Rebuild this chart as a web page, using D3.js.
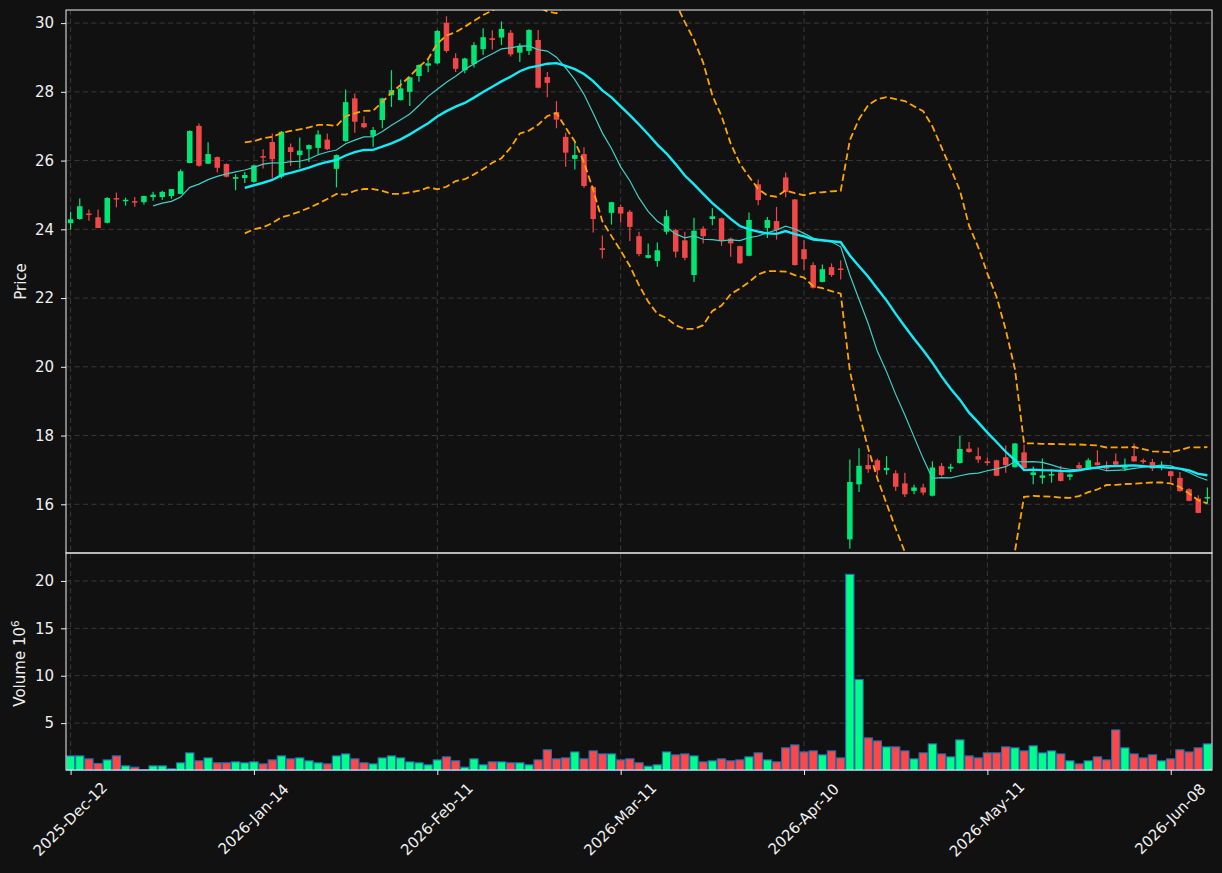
<!DOCTYPE html>
<html>
<head>
<meta charset="utf-8">
<script src="https://cdn.jsdelivr.net/npm/d3@7/dist/d3.min.js"></script>
<style>
  body { margin: 0; background: #111111; }
  svg { display: block; font-family: "DejaVu Sans", sans-serif; }
  .axis text { fill: #f0f0f0; font-size: 15px; font-family: "DejaVu Sans", sans-serif; }
  .axis line { stroke: #f0f0f0; }
  .grid line { stroke: #3a3a3a; stroke-dasharray: 5,3.5; }
  .title { fill: #f0f0f0; font-size: 15px; font-family: "DejaVu Sans", sans-serif; }
</style>
</head>
<body>
<svg width="1222" height="873"></svg>
<script>
// x tick positions (row index) and their date labels
var tickIdx = [0, 20, 40, 60, 80, 100, 120];
var tickLabels = ["2025-Dec-12", "2026-Jan-14", "2026-Feb-11", "2026-Mar-11",
                  "2026-Apr-10", "2026-May-11", "2026-Jun-08"];

var priceTicks = [16, 18, 20, 22, 24, 26, 28, 30];
var volTicks = [5, 10, 15, 20];

// OHLC, one per trading day
var opens = [24.18,24.30,24.46,24.35,24.19,24.91,24.84,24.82,24.79,24.94,
  24.94,24.97,25.03,25.93,27.01,25.91,26.10,25.90,25.47,25.49,
  25.38,26.13,26.54,25.53,26.39,26.16,26.33,26.37,26.61,25.76,
  26.57,27.81,27.09,26.72,27.18,27.90,27.76,28.00,28.46,28.76,
  28.83,30.01,28.98,28.63,28.81,29.24,29.56,29.58,29.72,29.14,
  29.19,29.51,28.43,27.41,26.69,26.05,26.19,25.23,23.45,24.48,
  24.65,24.51,23.80,23.17,23.08,23.93,23.98,23.68,22.67,24.02,
  24.30,24.32,23.73,23.51,23.23,25.31,24.04,24.24,25.51,24.87,
  23.42,22.96,22.47,22.90,22.86,14.98,16.58,17.14,17.28,16.99,
  16.90,16.61,16.39,16.49,16.25,17.11,17.04,17.20,17.62,17.40,
  17.25,17.28,17.37,17.08,17.51,16.85,16.77,16.84,16.93,16.80,
  17.14,17.01,17.22,17.08,17.25,17.06,17.40,17.28,17.23,17.09,
  16.96,16.77,16.44,16.17,16.19];

var highs = [24.51,24.90,24.58,24.58,24.93,25.07,24.92,24.94,24.98,25.09,
  25.12,25.17,25.75,26.88,27.08,26.53,26.12,25.92,25.60,25.67,
  25.88,26.33,26.79,26.86,26.50,26.67,26.47,26.88,26.79,26.18,
  28.07,27.95,27.29,26.98,27.83,28.63,28.36,28.44,28.80,28.97,
  29.80,30.20,29.12,28.99,29.44,29.85,29.79,30.05,29.80,29.41,
  29.82,29.80,28.58,27.73,26.81,26.52,26.39,25.25,23.82,24.80,
  24.72,24.56,23.93,23.59,23.62,24.56,24.02,23.93,24.34,24.09,
  24.61,24.34,23.76,23.52,24.49,25.45,24.36,24.65,25.65,24.88,
  23.68,23.04,22.98,23.01,23.10,17.30,17.63,17.46,17.33,17.40,
  16.99,16.92,16.57,16.60,17.25,17.20,17.18,17.99,17.81,17.65,
  17.36,17.30,17.71,17.78,17.74,17.10,17.33,17.02,17.12,16.89,
  17.22,17.34,17.57,17.25,17.48,17.33,17.77,17.33,17.32,17.25,
  16.97,16.94,16.47,16.26,16.49];

var lows = [23.99,24.28,24.25,24.03,24.18,24.64,24.69,24.66,24.72,24.83,
  24.86,24.89,25.02,25.92,25.82,25.90,25.65,25.51,25.14,25.35,
  25.36,25.77,25.48,25.48,25.84,25.77,25.96,26.18,26.31,25.22,
  26.55,26.81,26.94,26.40,26.94,27.56,27.75,27.59,28.29,28.57,
  28.80,29.14,28.58,28.54,28.71,29.07,29.23,29.36,29.03,28.87,
  29.07,28.10,27.84,26.94,25.82,25.74,25.21,23.91,23.15,24.14,
  24.20,23.66,23.22,23.15,22.91,23.85,23.18,23.10,22.47,23.59,
  24.12,23.52,23.20,23.00,23.22,24.70,23.75,23.70,24.93,22.95,
  22.81,22.28,22.46,22.62,22.54,14.71,16.36,16.92,16.85,16.86,
  16.39,16.21,16.29,16.26,16.23,16.81,16.94,17.19,17.50,17.20,
  17.13,16.82,16.92,17.07,17.04,16.58,16.60,16.63,16.66,16.70,
  17.03,17.00,17.13,16.96,17.14,16.97,17.24,17.18,16.97,16.99,
  16.65,16.37,16.09,15.74,16.02];

var closes = [24.29,24.67,24.42,24.04,24.91,24.87,24.86,24.78,24.97,25.01,
  25.09,25.17,25.69,26.86,25.85,26.19,25.79,25.53,25.52,25.58,
  25.86,26.10,26.04,26.84,26.25,26.29,26.45,26.76,26.33,26.16,
  27.70,27.13,26.97,26.89,27.81,28.05,28.10,28.42,28.78,28.83,
  29.77,29.19,28.67,28.97,29.36,29.59,29.51,29.83,29.09,29.34,
  29.80,28.12,28.26,27.19,26.23,26.16,25.26,24.30,23.40,24.79,
  24.46,24.07,23.28,23.25,23.39,24.38,23.35,23.17,23.96,23.80,
  24.38,23.68,23.59,23.01,24.27,24.85,24.27,23.98,25.09,22.96,
  23.13,22.30,22.84,22.67,22.82,16.65,17.12,17.02,16.99,17.06,
  16.51,16.29,16.49,16.34,17.07,16.85,17.09,17.61,17.52,17.30,
  17.20,16.83,17.14,17.77,17.05,16.93,16.84,16.88,16.68,16.87,
  17.04,17.28,17.14,17.06,17.15,17.08,17.25,17.23,17.04,17.14,
  16.82,16.38,16.10,15.75,16.21];

// volume in millions
var volumes = [1.54,1.54,1.23,0.74,1.12,1.54,0.49,0.35,0.07,0.49,
  0.49,0.18,0.81,1.86,1.02,1.33,0.81,0.81,0.91,0.81,
  0.91,0.70,1.12,1.54,1.23,1.33,1.02,0.81,0.70,1.54,
  1.75,1.23,0.81,0.70,1.33,1.54,1.33,0.91,0.81,0.60,
  1.12,1.44,1.02,0.35,1.23,0.60,0.91,0.91,0.81,0.81,
  0.60,1.12,2.18,1.23,1.33,1.96,1.23,2.07,1.75,1.75,
  1.12,1.23,0.81,0.46,0.60,1.96,1.65,1.75,1.54,0.91,
  1.02,1.23,1.02,1.12,1.44,1.86,1.12,0.91,2.39,2.70,
  1.96,2.07,1.65,2.07,1.33,20.7,9.6,3.44,3.12,2.49,
  2.49,2.07,1.23,1.86,2.81,1.75,1.44,3.23,1.54,1.33,
  1.86,1.86,2.49,2.39,2.07,2.60,1.86,2.07,1.75,1.02,
  0.70,1.02,1.44,1.12,4.28,2.39,1.75,1.33,1.65,1.02,
  1.23,2.18,1.96,2.39,2.81];

var upColor = "#00e676", downColor = "#f04848";
var upVol = "#00ff88", downVol = "#ff4747";

var svg = d3.select("svg");

// panel boxes
var left = 66, right = 1212;
var pTop = 10, pBottom = 553, vBottom = 770;

var x = d3.scaleLinear().domain([-0.5, closes.length - 0.5]).range([left, right]);
var y = d3.scaleLinear().domain([14.583, 30.381]).range([pBottom, pTop]);
var yv = d3.scaleLinear().domain([0, 22.95]).range([vBottom + 0.5, pBottom]);

var n = closes.length;
var idx = d3.range(n);

// rolling mean / population std over closes, null until the window is full
function rolling(win, fn) {
  return idx.map(function(i) {
    if (i < win - 1) return null;
    return fn(closes.slice(i - win + 1, i + 1));
  });
}
var ma10 = rolling(10, d3.mean);
var ma20 = rolling(20, d3.mean);
var sd20 = rolling(20, function(w) {
  var m = d3.mean(w);
  return Math.sqrt(d3.mean(w, function(v) { return (v - m) * (v - m); }));
});
var bbUp = idx.map(function(i) { return ma20[i] == null ? null : ma20[i] + 2 * sd20[i]; });
var bbLo = idx.map(function(i) { return ma20[i] == null ? null : ma20[i] - 2 * sd20[i]; });

svg.append("defs").append("clipPath").attr("id", "pclip")
  .append("rect").attr("x", left).attr("y", pTop)
  .attr("width", right - left).attr("height", pBottom - pTop);

// grid lines
var grid = svg.append("g").attr("class", "grid");
grid.selectAll(".gp").data(priceTicks).enter().append("line")
  .attr("x1", left).attr("x2", right)
  .attr("y1", function(d) { return y(d); }).attr("y2", function(d) { return y(d); });
grid.selectAll(".gv").data(volTicks).enter().append("line")
  .attr("x1", left).attr("x2", right)
  .attr("y1", function(d) { return yv(d); }).attr("y2", function(d) { return yv(d); });
grid.selectAll(".gx").data(tickIdx).enter().append("line")
  .attr("x1", function(d) { return x(d); }).attr("x2", function(d) { return x(d); })
  .attr("y1", pTop).attr("y2", vBottom);

// volume bars
svg.append("g").selectAll("rect").data(idx).enter().append("rect")
  .attr("x", function(i) { return x(i - 0.45); })
  .attr("width", x(0.45) - x(-0.45))
  .attr("y", function(i) { return yv(volumes[i]); })
  .attr("height", function(i) { return yv(0) - yv(volumes[i]); })
  .attr("fill", function(i) { return closes[i] >= opens[i] ? upVol : downVol; })
  .attr("stroke", "#1f6fb4")
  .attr("stroke-width", 1.1);

// candles
var cg = svg.append("g").attr("clip-path", "url(#pclip)");
cg.selectAll("line.wick").data(idx).enter().append("line")
  .attr("class", "wick")
  .attr("x1", function(i) { return x(i); }).attr("x2", function(i) { return x(i); })
  .attr("y1", function(i) { return y(highs[i]); }).attr("y2", function(i) { return y(lows[i]); })
  .attr("stroke", function(i) { return closes[i] >= opens[i] ? upColor : downColor; })
  .attr("stroke-width", 1.2);
cg.selectAll("rect.body").data(idx).enter().append("rect")
  .attr("class", "body")
  .attr("x", function(i) { return x(i - 0.3); })
  .attr("width", x(0.3) - x(-0.3))
  .attr("y", function(i) { return y(Math.max(opens[i], closes[i])); })
  .attr("height", function(i) {
    return Math.max(1.5, y(Math.min(opens[i], closes[i])) - y(Math.max(opens[i], closes[i])));
  })
  .attr("fill", function(i) { return closes[i] >= opens[i] ? upColor : downColor; });

// moving averages and bollinger bands
function drawLine(vals, color, width, dash) {
  var line = d3.line()
    .defined(function(d) { return d != null; })
    .x(function(d, i) { return x(i); })
    .y(function(d) { return y(d); });
  cg.append("path")
    .datum(vals)
    .attr("fill", "none")
    .attr("stroke", color)
    .attr("stroke-width", width)
    .attr("stroke-dasharray", dash || null)
    .attr("d", line);
}
drawLine(bbUp, "#ffa500", 1.8, "7,3.5");
drawLine(bbLo, "#ffa500", 1.8, "7,3.5");
drawLine(ma10, "#40cfc6", 1.2);
drawLine(ma20, "#12ecf8", 2.4);

// axes
svg.append("g").attr("class", "axis")
  .attr("transform", "translate(" + left + ",0)")
  .call(d3.axisLeft(y).tickValues(priceTicks).tickSize(5).tickPadding(7))
  .select(".domain").remove();
svg.append("g").attr("class", "axis")
  .attr("transform", "translate(" + left + ",0)")
  .call(d3.axisLeft(yv).tickValues(volTicks).tickSize(5).tickPadding(7))
  .select(".domain").remove();

var xa = svg.append("g").attr("class", "axis")
  .attr("transform", "translate(0," + vBottom + ")")
  .call(d3.axisBottom(x).tickValues(tickIdx).tickSize(5)
    .tickFormat(function(d, i) { return tickLabels[i]; }));
xa.select(".domain").remove();
xa.selectAll("text")
  .attr("y", 0).attr("dy", "0.35em")
  .attr("text-anchor", "middle")
  .attr("transform", "translate(-1,49) rotate(-45)");

// panel frames
svg.append("rect").attr("x", left).attr("y", pTop)
  .attr("width", right - left).attr("height", pBottom - pTop)
  .attr("fill", "none").attr("stroke", "#f0f0f0").attr("stroke-width", 1);
svg.append("rect").attr("x", left).attr("y", pBottom)
  .attr("width", right - left).attr("height", vBottom - pBottom)
  .attr("fill", "none").attr("stroke", "#f0f0f0").attr("stroke-width", 1);

// axis titles
svg.append("text").attr("class", "title")
  .attr("transform", "translate(21," + (pTop + pBottom) / 2 + ") rotate(-90)")
  .attr("text-anchor", "middle").attr("dominant-baseline", "central")
  .text("Price");

var vt = svg.append("text").attr("class", "title")
  .attr("transform", "translate(20," + ((pBottom + vBottom) / 2 + 2) + ") rotate(-90)")
  .attr("text-anchor", "middle").attr("dominant-baseline", "central");
vt.append("tspan").text("Volume  10");
vt.append("tspan").attr("dy", "-0.45em").style("font-size", "10.5px").text("6");
</script>
</body>
</html>
